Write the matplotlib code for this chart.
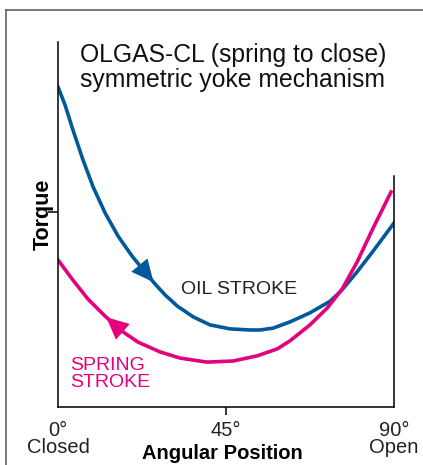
import numpy as np
import matplotlib
matplotlib.use('Agg')
import matplotlib.pyplot as plt
from matplotlib.lines import Line2D

plt.rcParams['font.family'] = ['Liberation Sans', 'DejaVu Sans']

# values (angle in degrees, torque in arbitrary units)
oil_angle = [0, 1.9, 4.0, 6.7, 9.4, 12.6, 16.1, 19.8, 23.3, 26.0, 28.7, 31.9, 36.2, 40.7,
             46.1, 51.4, 54.1, 57.6, 62.1, 67.5, 72.9, 76.1, 80.1, 84.4, 90]
oil_torque = [87.7, 82.7, 75.9, 67.7, 60.3, 53.2, 46.8, 41.4, 37.0, 33.7, 30.7, 27.7, 24.7, 22.5,
              21.4, 21.1, 21.1, 21.6, 23.3, 25.8, 29.0, 32.1, 37.0, 42.7, 50.4]

spring_angle = [0, 3.75, 8.0, 12.6, 17.1, 21.4, 27.3, 32.7, 39.9, 46.9, 53.3, 58.7, 62.1,
                67.5, 72.1, 76.1, 80.1, 84.4, 89.2]
spring_torque = [40.3, 35.1, 29.6, 24.9, 20.8, 17.8, 15.1, 13.4, 12.3, 12.6, 14.0, 15.9, 18.1,
                 22.5, 27.1, 32.3, 39.7, 49.0, 58.9]

tick_pos = [0, 45, 90]
tick_labels = ['0°\nClosed', '45°', '90°\nOpen']

blue = '#00599a'
pink = '#e5007d'

fig = plt.figure(figsize=(4.23, 4.65), dpi=100)
W, H = 423, 465
ax = fig.add_axes([58 / W, 1 - 407 / H, 336 / W, 365 / H])

ax.plot(oil_angle, oil_torque, color=blue, lw=2.6, solid_joinstyle='round')
ax.plot(spring_angle, spring_torque, color=pink, lw=2.6, solid_joinstyle='round')

# direction arrows on the curves
def arrow_on(xs, ys, x0, x1, color):
    ax.annotate('', xy=(x1, np.interp(x1, xs, ys)), xytext=(x0, np.interp(x0, xs, ys)),
                arrowprops=dict(arrowstyle='-|>,head_length=1.6,head_width=0.75',
                                color=color, lw=0, shrinkA=0, shrinkB=0))

arrow_on(oil_angle, oil_torque, 22.2, 25.6, blue)
arrow_on(spring_angle, spring_torque, 17.3, 12.9, pink)

ax.set_xlim(0, 90)
ax.set_ylim(0, 100)
ax.spines['top'].set_visible(False)
ax.spines['right'].set_bounds(0, 63.3)
for s in ax.spines.values():
    s.set_linewidth(1.1)

ax.set_xticks(tick_pos)
ax.set_xticklabels(tick_labels, fontsize=14.5, color='#222222', linespacing=0.85)
ax.tick_params(axis='x', length=6, width=1.1, pad=4)
ticks = ax.xaxis.get_major_ticks()
ticks[0].tick1line.set_visible(False)
ticks[2].tick1line.set_visible(False)
ax.set_yticks([53.4])
ax.set_yticklabels([''])
ax.tick_params(axis='y', length=7, width=1.1)

ax.set_xlabel('Angular Position', fontsize=14.5, fontweight='bold', va='top')
ax.xaxis.set_label_coords(0.488, -0.101)
ax.set_ylabel('Torque', fontsize=15.5, fontweight='bold')
ax.yaxis.set_label_coords(-0.012, 0.529)

fig.text(80 / W, 1 - 87 / H, 'OLGAS-CL (spring to close)\nsymmetric yoke mechanism',
         fontsize=17.8, color='#111111', ha='left', va='baseline', linespacing=1.05)
fig.text(181 / W, 1 - 294 / H, 'OIL STROKE', fontsize=14, color='#222222', va='baseline')
fig.text(70 / W, 1 - 387 / H, 'SPRING\nSTROKE', fontsize=14, color=pink, va='baseline',
         linespacing=1.0)

# outer frame (top and left edges)
fig.add_artist(Line2D([5.5 / W, 1], [1 - 10 / H, 1 - 10 / H], color='#555555', lw=1.1))
fig.add_artist(Line2D([5.5 / W, 5.5 / W], [0, 1 - 10 / H], color='#555555', lw=1.1))

fig.savefig('out.png', dpi=100)
